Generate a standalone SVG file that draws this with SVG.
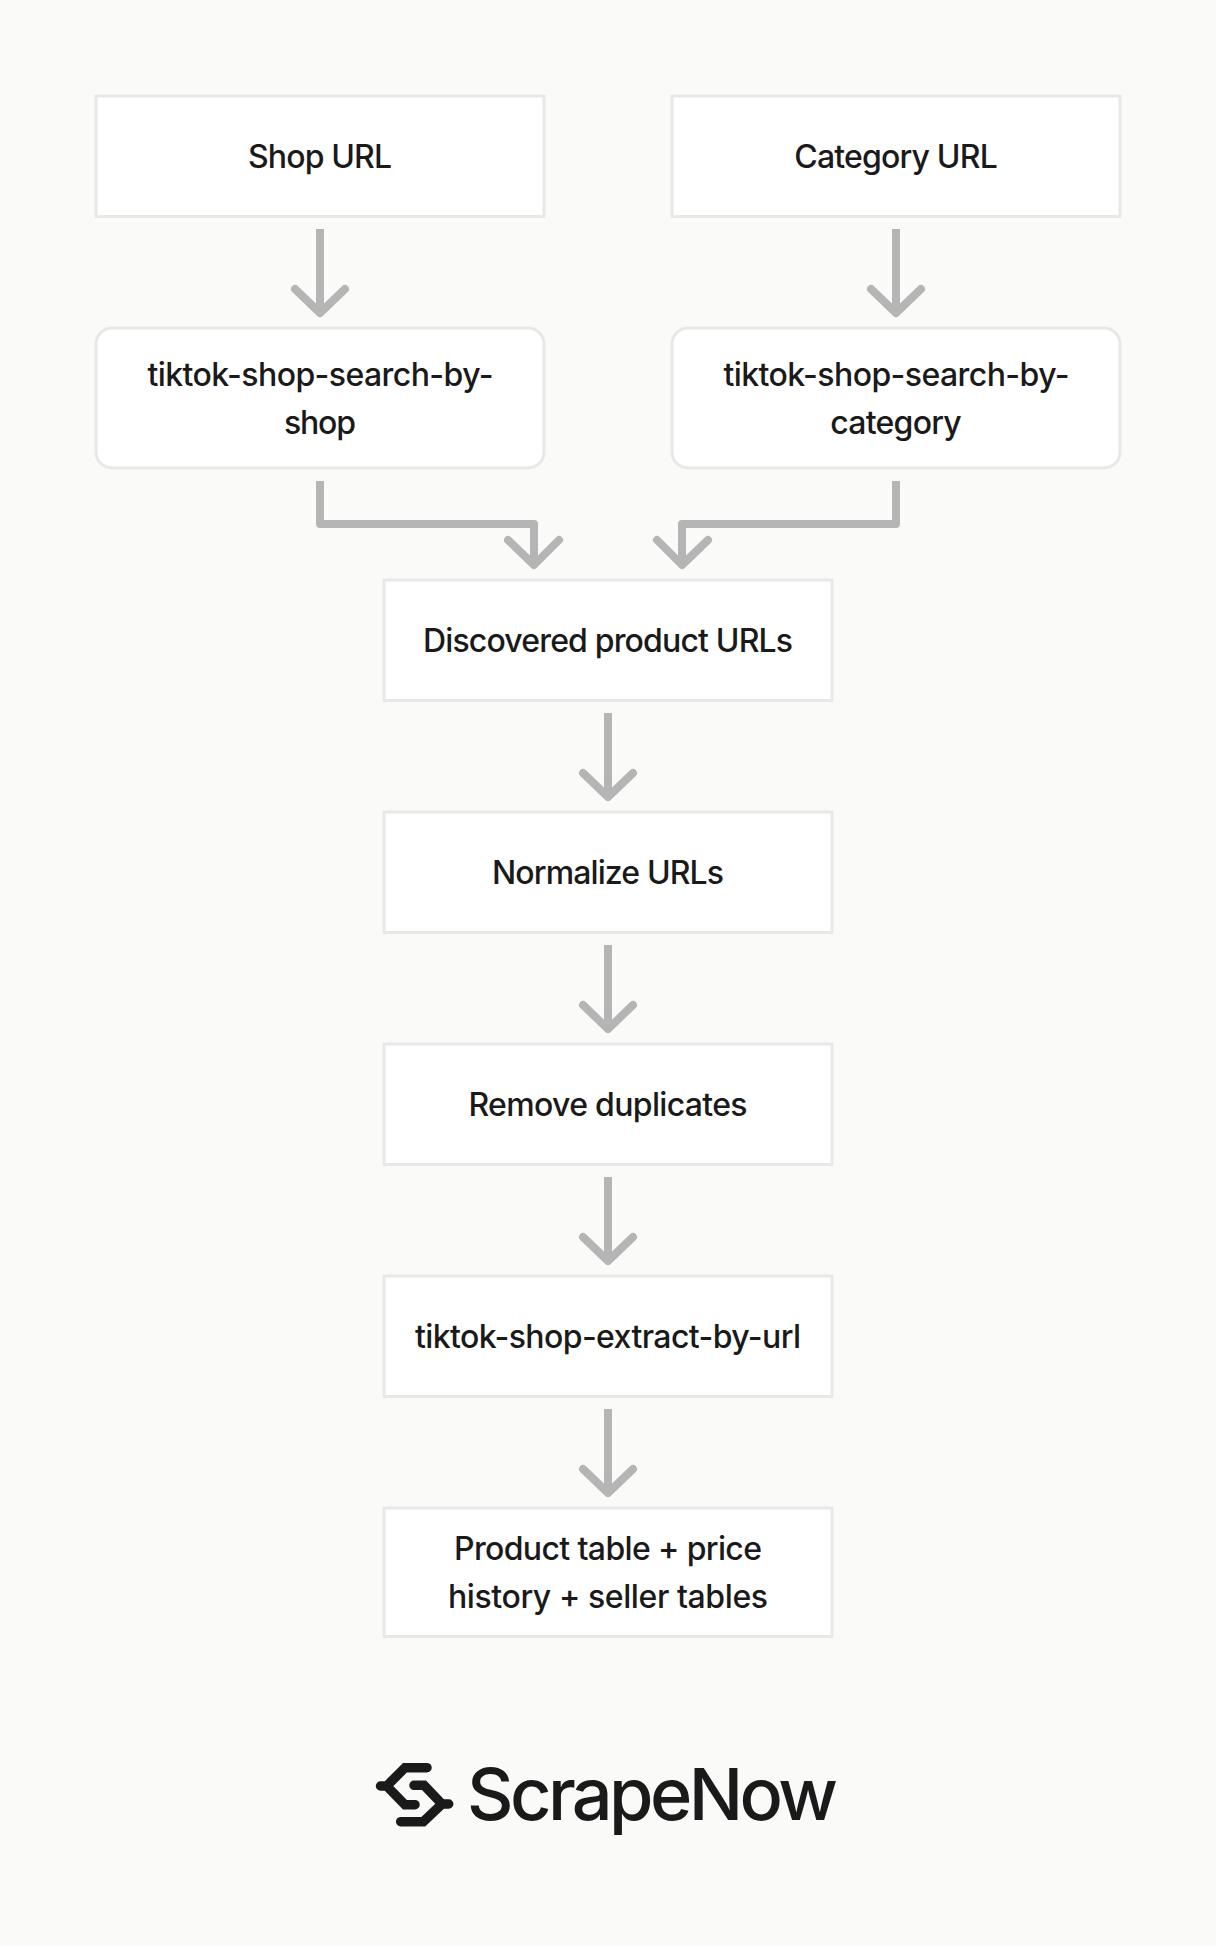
<svg xmlns="http://www.w3.org/2000/svg" width="1216" height="1946" viewBox="0 0 1216 1946">
<style>
.box{fill:#fff;stroke:#e8e8e6;stroke-width:3}
.t{font-family:"Inter","Liberation Sans",sans-serif;font-size:32px;font-weight:450;fill:#1a1a1a;text-anchor:middle}
.c{fill:none;stroke:#b5b5b5;stroke-width:8;stroke-linejoin:round}
.h{fill:none;stroke:#b5b5b5;stroke-width:8;stroke-linecap:round;stroke-linejoin:round}
.m{fill:none;stroke:#1a1a1a;stroke-width:9.500;stroke-linecap:round;stroke-linejoin:miter}
</style>
<rect width="1216" height="1946" fill="#fafaf8"/>
<g id="connectors">
<path class="c" d="M320 229V310"/><path class="h" d="M295 289L320 313L345 289"/>
<path class="c" d="M896 229V310"/><path class="h" d="M871 289L896 313L921 289"/>
<path class="c" d="M320 481V524H534V560"/><path class="h" d="M508 540L534 565L559 540"/>
<path class="c" d="M896 481V524H682V560"/><path class="h" d="M657 540L682 565L708 540"/>
<path class="c" d="M608 713V794"/><path class="h" d="M583 773L608 797L633 773"/>
<path class="c" d="M608 945V1026"/><path class="h" d="M583 1005L608 1029L633 1005"/>
<path class="c" d="M608 1177V1258"/><path class="h" d="M583 1237L608 1261L633 1237"/>
<path class="c" d="M608 1409V1490"/><path class="h" d="M583 1469L608 1493L633 1469"/>
</g>
<g id="shop-url"><rect class="box" x="96" y="96" width="448" height="120.500"/><text class="t" x="320" y="168" textLength="144">Shop URL</text></g>
<g id="category-url"><rect class="box" x="672" y="96" width="448" height="120.500"/><text class="t" x="896" y="168" textLength="203.500">Category URL</text></g>
<g id="search-by-shop"><rect class="box" x="96" y="328" width="448" height="140" rx="16"/><text class="t" x="320.500" y="386" textLength="346">tiktok-shop-search-by-</text><text class="t" x="320" y="434" textLength="72">shop</text></g>
<g id="search-by-category"><rect class="box" x="672" y="328" width="448" height="140" rx="16"/><text class="t" x="896.500" y="386" textLength="346">tiktok-shop-search-by-</text><text class="t" x="896" y="434" textLength="131.500">category</text></g>
<g id="discovered"><rect class="box" x="384" y="580" width="448" height="120.500"/><text class="t" x="608" y="652" textLength="370">Discovered product URLs</text></g>
<g id="normalize"><rect class="box" x="384" y="812" width="448" height="120.500"/><text class="t" x="608" y="884" textLength="232">Normalize URLs</text></g>
<g id="dedupe"><rect class="box" x="384" y="1044" width="448" height="120.500"/><text class="t" x="608" y="1116" textLength="279">Remove duplicates</text></g>
<g id="extract"><rect class="box" x="384" y="1276" width="448" height="120.500"/><text class="t" x="608" y="1348" textLength="386">tiktok-shop-extract-by-url</text></g>
<g id="tables"><rect class="box" x="384" y="1508" width="448" height="128.500"/><text class="t" x="608" y="1560" textLength="308">Product table + price</text><text class="t" x="608" y="1608" textLength="320">history + seller tables</text></g>
<g id="logo">
<path class="m" d="M427 1767.700H405L386.700 1786H380.500M386.700 1786L405 1804.700H415"/>
<path class="m" d="M414 1785.300H424L442 1804H448.700M442 1804L423.300 1821.700H400.700"/>
<text x="467" y="1820" font-family="Inter,'Liberation Sans',sans-serif" font-size="72" font-weight="500" fill="#1a1a1a" textLength="371">ScrapeNow</text>
</g>
</svg>
